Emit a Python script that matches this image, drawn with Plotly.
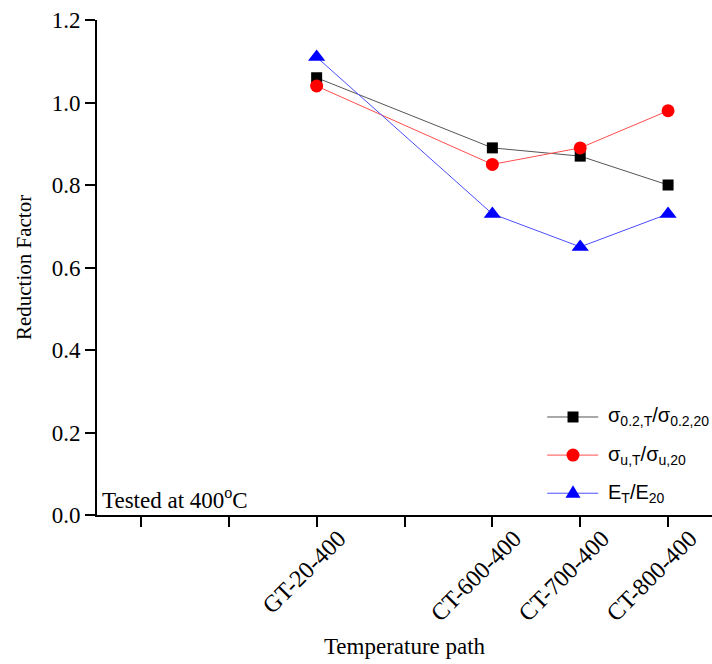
import plotly.graph_objects as go

# Slots along the x axis (blank slots carry a tick but no label)
path_slots = ["", "", "GT-20-400", "", "CT-600-400", "CT-700-400", "CT-800-400"]
paths = ["GT-20-400", "CT-600-400", "CT-700-400", "CT-800-400"]

yield_ratio = [1.06, 0.89, 0.87, 0.80]
ultimate_ratio = [1.04, 0.85, 0.89, 0.98]
modulus_ratio = [1.11, 0.73, 0.65, 0.73]

y_ticks = [0.0, 0.2, 0.4, 0.6, 0.8, 1.0, 1.2]

x_pos = [path_slots.index(p) for p in paths]
blank_slots = [i for i, s in enumerate(path_slots) if not s]

series = [
    ("σ<sub>0.2,T</sub>/σ<sub>0.2,20</sub>", yield_ratio, "#000000", "#555555", "square", 11),
    ("σ<sub>u,T</sub>/σ<sub>u,20</sub>", ultimate_ratio, "#ff0000", "#ff4d4d", "circle", 13),
    ("E<sub>T</sub>/E<sub>20</sub>", modulus_ratio, "#0000ff", "#4d4dff", "triangle-up", 15),
]

fig = go.Figure()
for name, vals, mcol, lcol, sym, size in series:
    fig.add_trace(go.Scatter(
        x=x_pos, y=vals, name=name, mode="lines+markers",
        line=dict(color=lcol, width=1),
        marker=dict(symbol=sym, size=size, color=mcol, line=dict(width=0)),
        showlegend=False,
    ))

# Key in the lower-right corner: long sample line, marker glyph, label
key_rows_y = [0.198, 0.121, 0.044]
key_line_x = (0.732, 0.815)
key_mark_x = 0.774
key_text_x = 0.827
shapes = []
annotations = []
for (name, _, mcol, lcol, sym, size), ky in zip(series, key_rows_y):
    shapes.append(dict(type="line", xref="paper", yref="paper",
                       x0=key_line_x[0], x1=key_line_x[1], y0=ky, y1=ky,
                       line=dict(color=lcol, width=1)))
    common = dict(xref="paper", yref="paper", xsizemode="pixel", ysizemode="pixel",
                  xanchor=key_mark_x, yanchor=ky, fillcolor=mcol, line=dict(width=0))
    h = size / 2
    if sym == "square":
        shapes.append(dict(type="rect", x0=-h, x1=h, y0=-h, y1=h, **common))
    elif sym == "circle":
        shapes.append(dict(type="circle", x0=-h, x1=h, y0=-h, y1=h, **common))
    else:
        shapes.append(dict(type="path", path=f"M{-h},{-h*0.6} L{h},{-h*0.6} L0,{h*1.05} Z", **common))
    annotations.append(dict(text=name, x=key_text_x, y=ky, xref="paper", yref="paper",
                            xanchor="left", yanchor="middle", showarrow=False,
                            font=dict(family="Liberation Sans, Arial, sans-serif", size=20, color="black")))

serif = "Liberation Serif, Times New Roman, serif"

annotations.append(dict(
    text="Tested at 400<sup>o</sup>C", x=0.005, xref="paper", y=0.0, yref="paper",
    xanchor="left", yanchor="bottom", showarrow=False,
    font=dict(family=serif, size=23, color="black"),
))

fig.update_layout(
    width=712, height=664,
    margin=dict(l=97, r=0, t=20, b=149),
    paper_bgcolor="white", plot_bgcolor="white",
    showlegend=False,
    xaxis=dict(
        range=[-0.5, 6.5],
        tickmode="array", tickvals=x_pos, ticktext=paths,
        tickangle=-45, ticklabelshift=22, ticklabelstandoff=-12,
        ticks="outside", ticklen=10, tickwidth=2, tickcolor="black",
        minor=dict(tickmode="array", tickvals=blank_slots, ticks="outside",
                   ticklen=10, tickwidth=2, tickcolor="black", showgrid=False),
        showline=True, linewidth=2, linecolor="black",
        showgrid=False, zeroline=False,
        tickfont=dict(family=serif, size=24, color="black"),
        title=dict(text="Temperature path", font=dict(family=serif, size=23, color="black"), standoff=13),
    ),
    yaxis=dict(
        range=[0, 1.2],
        tickmode="array", tickvals=y_ticks, ticktext=[f"{v:.1f}" for v in y_ticks],
        ticks="outside", ticklen=10, tickwidth=2, tickcolor="black",
        showline=True, linewidth=2, linecolor="black",
        showgrid=False, zeroline=False,
        tickfont=dict(family=serif, size=23, color="black"),
        title=dict(text="Reduction Factor", font=dict(family=serif, size=21, color="black"), standoff=14),
    ),
    shapes=shapes,
    annotations=annotations,
)

fig.write_html("out.html")
